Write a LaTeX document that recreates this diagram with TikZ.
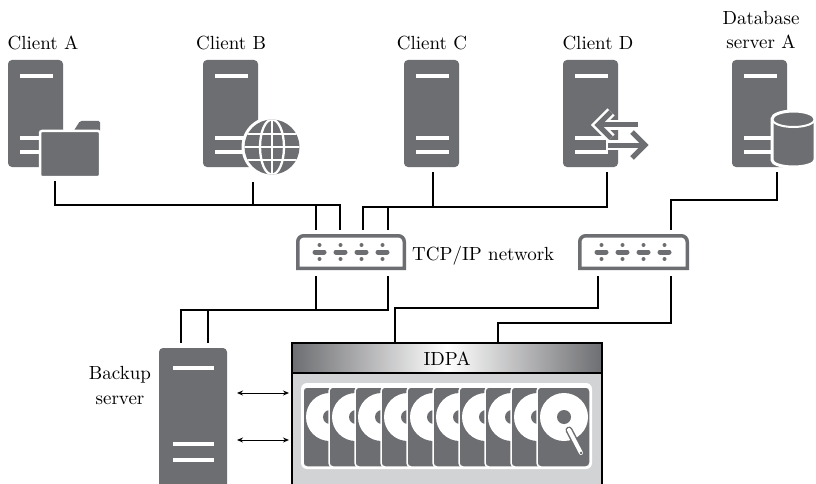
\documentclass[tikz,border=0pt]{standalone}
\usepackage{fontspec}
\setmainfont{lmroman10-regular.otf}
\usetikzlibrary{arrows.meta}
\definecolor{srvgray}{HTML}{6D6E71}
\definecolor{boxgray}{HTML}{D1D3D4}

% white slots on a tower server
\newcommand\towerbars[1]{%
  \fill[white] ([shift={(12,14)}]#1.north west) rectangle ++(33,4);
  \fill[white] ([shift={(12,76)}]#1.north west) rectangle ++(33,4);
  \fill[white] ([shift={(12,90)}]#1.north west) rectangle ++(33,4);}
% switch outline with four ports
\newcommand\switchbox[1]{%
  \draw[swline] ([shift={(1.75,-1.75)}]#1.south west) [rounded corners=6pt]
     -- ([shift={(1.75,1.75)}]#1.north west)
     -- ([shift={(-1.75,1.75)}]#1.north east) [sharp corners]
     -- ([shift={(-1.75,-1.75)}]#1.south east) -- cycle;
  \foreach \dx in {23.5,44.5,65.5,86.5} {
    \draw[srvgray, line width=5pt, line cap=round] ([shift={(\dx-4.5,18)}]#1.north west) -- ++(9,0);
    \fill[srvgray] ([shift={(\dx,11)}]#1.north west) circle (2pt);
    \fill[srvgray] ([shift={(\dx,25)}]#1.north west) circle (2pt);
  }}

\begin{document}
\begin{tikzpicture}[x=1pt,y=-1pt,
  lbl/.style={font=\fontsize{19}{24.5}\selectfont, inner sep=0pt, align=center},
  srv/.style={rectangle, rounded corners=4pt, fill=srvgray, inner sep=0pt, outer sep=0pt,
              anchor=north west, minimum width=55pt, minimum height=107pt},
  box/.style={rectangle, inner sep=0pt, outer sep=0pt, anchor=north west},
  swbox/.style={box, minimum width=110pt, minimum height=36pt},
  swline/.style={srvgray, line width=3.5pt},
  wire/.style={black, line width=1.4pt},
  link/.style={black, line width=1pt, {Stealth[length=6pt,width=5pt]}-{Stealth[length=6pt,width=5pt]}},
  halo/.style={white, line width=10pt, line join=miter},
  icon/.style={srvgray, line width=5pt, line join=miter},
  cutout/.style={fill=srvgray, draw=white, line width=2.5pt}]

\useasboundingbox[fill=white] (0,0) rectangle (816,484);

% ---------- labels ----------
\node[lbl, anchor=base] (tA) at (43,50) {Client A};
\node[lbl, anchor=base] (tB) at (231,50) {Client B};
\node[lbl, anchor=base] (tC) at (432,50) {Client C};
\node[lbl, anchor=base] (tD) at (598,50) {Client D};
\node[lbl, anchor=base] (tDB) at (761,49) {Database\\server A};
\node[lbl, anchor=base west] (tNet) at (412,260) {TCP/IP network};
\node[lbl, anchor=base] (tBk) at (120,404) {Backup\\server};

% ---------- client A: server with folder ----------
\node[srv] (cA) at (8,60) {};
\towerbars{cA}
\node[box, minimum width=60pt, minimum height=55pt] (fA) at (40,121) {};
\fill[srvgray, rounded corners=1.5pt] (73,132) -- (80,121) -- (100,121) -- (100,132) -- cycle;
\filldraw[cutout, rounded corners=2pt] (40,131) rectangle (100,177);

% ---------- client B: server with globe ----------
\node[srv] (cB) at (203,60) {};
\towerbars{cB}
\node[circle, minimum size=60pt, inner sep=0pt] (gB) at (272,147) {};
\fill[white] (gB.center) circle (30.5pt);
\fill[srvgray] (gB.center) circle (27.5pt);
\begin{scope}
  \clip (gB.center) circle (27.5pt);
  \draw[white, line width=2.3pt] (gB.north) -- (gB.south);
  \draw[white, line width=2.3pt] (gB.west) -- (gB.east);
  \draw[white, line width=2.3pt] ([yshift=13pt]gB.west) -- ([yshift=13pt]gB.east);
  \draw[white, line width=2.3pt] ([yshift=-13pt]gB.west) -- ([yshift=-13pt]gB.east);
  \draw[white, line width=2.3pt] (gB.center) ellipse [x radius=12pt, y radius=27.5pt];
\end{scope}

% ---------- client C ----------
\node[srv] (cC) at (404,60) {};
\towerbars{cC}

% ---------- client D: server with exchange arrows ----------
\node[srv] (cD) at (563,60) {};
\towerbars{cD}
\draw[halo] (640,125) -- (598,125);
\draw[halo] (611,112) -- (598,125) -- (611,138);
\draw[halo] (606,145) -- (642,145);
\draw[halo] (632,132) -- (645,145) -- (632,158);
\draw[icon] (638,125) -- (599,125);
\draw[icon] (611,112) -- (598,125) -- (611,138);
\draw[icon] (608,145) -- (642,145);
\draw[icon] (632,132) -- (645,145) -- (632,158);

% ---------- database server A ----------
\node[srv] (dbs) at (732,60) {};
\towerbars{dbs}
\node[box, minimum width=43pt, minimum height=56pt] (cyl) at (772,111) {};
\filldraw[fill=srvgray, draw=white, line width=3pt]
  (772,119) -- (772,160) arc[start angle=180, end angle=360, x radius=21.5pt, y radius=7pt]
  -- (815,119) arc[start angle=0, end angle=180, x radius=21.5pt, y radius=8pt] -- cycle;
\draw[white, line width=2pt] (772,119) arc[start angle=180, end angle=360, x radius=21.5pt, y radius=8pt];

% ---------- switches ----------
\node[swbox] (sw1) at (296,234) {};
\switchbox{sw1}
\node[swbox, minimum width=111pt] (sw2) at (578,234) {};
\switchbox{sw2}

% ---------- backup server ----------
\node[srv, minimum width=68pt, minimum height=140pt] (bk) at (159,348) {};
\fill[white] ([shift={(14,18)}]bk.north west) rectangle ++(41,4);
\fill[white] ([shift={(14,94)}]bk.north west) rectangle ++(41,4);
\fill[white] ([shift={(14,110)}]bk.north west) rectangle ++(41,4);

% ---------- IDPA appliance ----------
\node[box, minimum width=310pt, minimum height=150pt] (idpa) at (292,343) {};
\fill[boxgray] (idpa.north west) rectangle (idpa.south east);
\shade[left color=srvgray, right color=srvgray, middle color=white]
  (idpa.north west) rectangle ([yshift=-30pt]idpa.north east);
\draw[line width=1.3pt] (idpa.south west) -- (idpa.north west) -- (idpa.north east) -- (idpa.south east);
\draw[line width=1.3pt] ([yshift=-30pt]idpa.north west) -- ([yshift=-30pt]idpa.north east);
\node[lbl, anchor=base] (tIDPA) at (447,365) {IDPA};
\fill[white, rounded corners=6pt] (301,383) rectangle (592,469);
\foreach \i in {0,...,9} {
  \pgfmathsetmacro\L{303+26*\i}
  \filldraw[fill=srvgray, draw=white, line width=1.5pt, rounded corners=4pt] (\L,387) rectangle ++(53,80);
  \fill[white] (\L+27,417) circle (24pt);
  \fill[srvgray] (\L+27,417) circle (7pt);
}
\draw[srvgray, line width=7pt, line cap=round] (569,430) -- (581,453);
\draw[white, line width=4pt, line cap=round] (569,430) -- (581,453);
\fill[srvgray] (581,453) circle (1.5pt);

% ---------- network wiring ----------
\draw[wire] ([xshift=-15pt,yshift=-5pt]fA.south) -- ++(0,24) -| ([xshift=44pt,yshift=4pt]sw1.north west);
\draw[wire] ([xshift=-19pt,yshift=-5pt]gB.south) -- ++(0,24);
\draw[wire] ([xshift=20pt,yshift=4pt]sw1.north west) -- ++(0,-25);
\draw[wire] ([xshift=1.5pt,yshift=-5pt]cC.south) -- ++(0,35);
\draw[wire] ([xshift=-11pt,yshift=-5pt]cD.south east) -- ++(0,35) -| ([xshift=67pt,yshift=4pt]sw1.north west);
\draw[wire] ([xshift=92pt,yshift=4pt]sw1.north west) -- ++(0,-23);
\draw[wire] ([xshift=-10pt,yshift=-5pt]dbs.south east) -- ++(0,28) -| ([xshift=93pt,yshift=4pt]sw2.north west);
\draw[wire] ([xshift=20pt,yshift=-6pt]sw2.south west) -- ++(0,32) -| ([xshift=103pt]idpa.north west);
\draw[wire] ([xshift=93pt,yshift=-6pt]sw2.south west) -- ++(0,47) -| ([xshift=206pt]idpa.north west);
\draw[wire] ([xshift=92pt,yshift=-6pt]sw1.south west) -- ++(0,34) -| ([xshift=22pt,yshift=5pt]bk.north west);
\draw[wire] ([xshift=20pt,yshift=-6pt]sw1.south west) -- ++(0,34);
\draw[wire] ([xshift=49pt,yshift=5pt]bk.north west) -- ++(0,-33);

% ---------- backup links ----------
\coordinate (b1) at ([shift={(10,-25)}]bk.east);
\coordinate (b2) at ([shift={(10,22)}]bk.east);
\draw[link, shorten >=3pt] (b1) -- (b1 -| idpa.west);
\draw[link, shorten >=3pt] (b2) -- (b2 -| idpa.west);

\end{tikzpicture}
\end{document}
